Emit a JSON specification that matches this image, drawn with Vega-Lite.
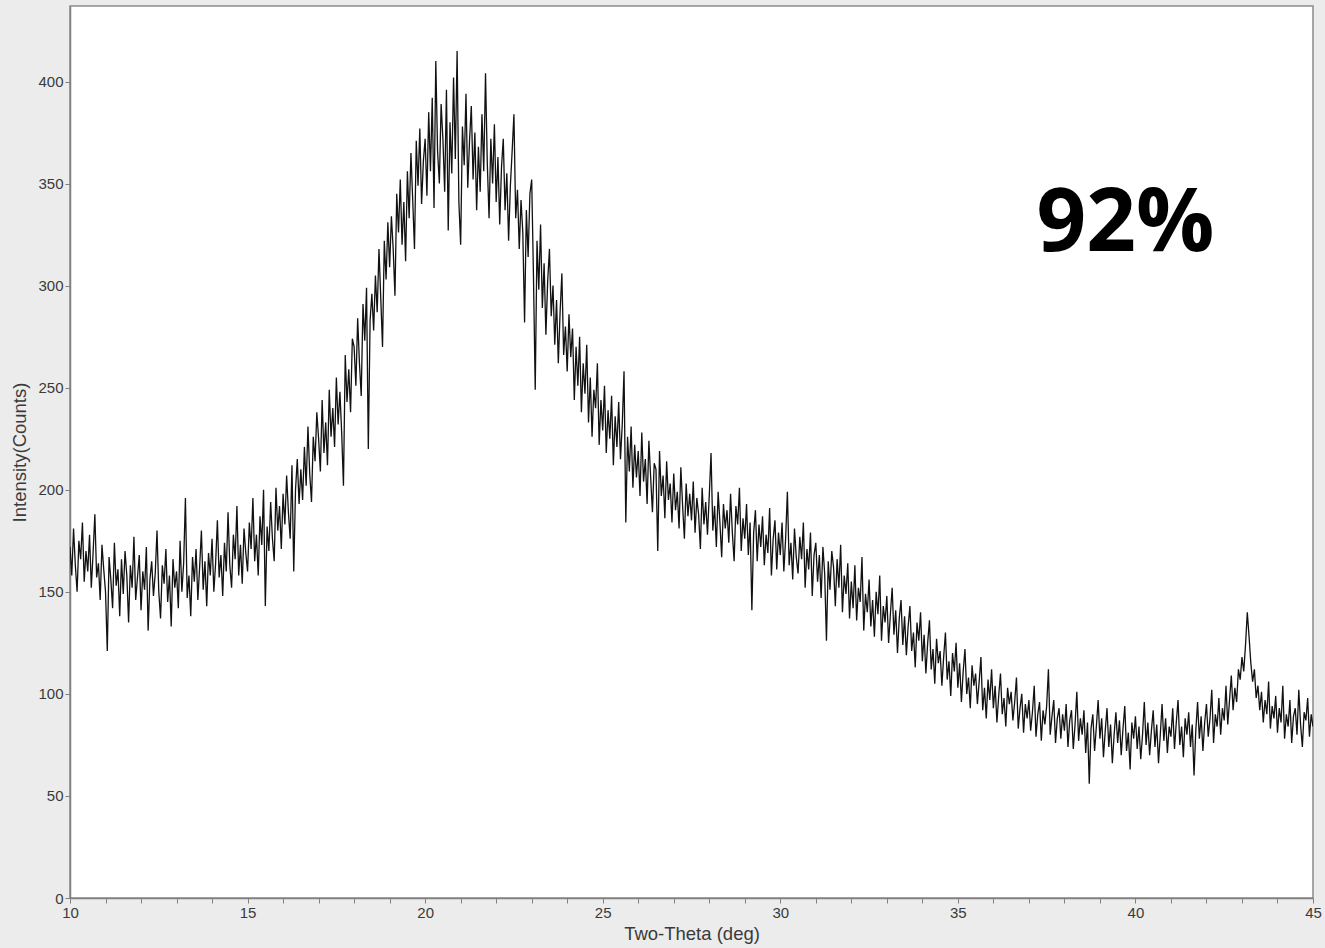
{
  "$schema": "https://vega.github.io/schema/vega-lite/v6.json",
  "width": 1243,
  "height": 892,
  "autosize": {"type": "none"},
  "padding": {"left": 70, "top": 6, "right": 12, "bottom": 50},
  "background": "#ececec",
  "config": {
    "view": {"fill": "#ffffff", "stroke": "#8c8c8c", "strokeWidth": 1.5},
    "axis": {
      "grid": false,
      "domainColor": "#808080",
      "domainWidth": 1.5,
      "tickColor": "#808080",
      "tickSize": 5,
      "labelFont": "Liberation Sans",
      "labelFontSize": 15,
      "labelColor": "#3a3a3a",
      "titleFont": "Liberation Sans",
      "titleFontSize": 18.5,
      "titleFontWeight": "normal",
      "titleColor": "#3a3a3a"
    }
  },
  "datasets": {
    "scan": [
      {"t":10.00,"c":172},{"t":10.05,"c":158},{"t":10.10,"c":181},{"t":10.15,"c":163},{"t":10.20,"c":150},{"t":10.25,"c":175},{"t":10.30,"c":166},{"t":10.35,"c":184},{"t":10.40,"c":155},{"t":10.45,"c":170},
      {"t":10.50,"c":160},{"t":10.55,"c":178},{"t":10.60,"c":152},{"t":10.65,"c":169},{"t":10.70,"c":188},{"t":10.75,"c":157},{"t":10.80,"c":164},{"t":10.85,"c":146},{"t":10.90,"c":173},{"t":10.95,"c":161},
      {"t":11.00,"c":150},{"t":11.05,"c":121},{"t":11.10,"c":167},{"t":11.15,"c":156},{"t":11.20,"c":142},{"t":11.25,"c":174},{"t":11.30,"c":153},{"t":11.35,"c":161},{"t":11.40,"c":138},{"t":11.45,"c":166},
      {"t":11.50,"c":149},{"t":11.55,"c":170},{"t":11.60,"c":158},{"t":11.65,"c":135},{"t":11.70,"c":163},{"t":11.75,"c":152},{"t":11.80,"c":177},{"t":11.85,"c":146},{"t":11.90,"c":157},{"t":11.95,"c":168},
      {"t":12.00,"c":141},{"t":12.05,"c":160},{"t":12.10,"c":151},{"t":12.15,"c":172},{"t":12.20,"c":131},{"t":12.25,"c":156},{"t":12.30,"c":165},{"t":12.35,"c":148},{"t":12.40,"c":159},{"t":12.45,"c":180},
      {"t":12.50,"c":150},{"t":12.55,"c":137},{"t":12.60,"c":163},{"t":12.65,"c":154},{"t":12.70,"c":171},{"t":12.75,"c":145},{"t":12.80,"c":158},{"t":12.85,"c":133},{"t":12.90,"c":166},{"t":12.95,"c":152},
      {"t":13.00,"c":160},{"t":13.05,"c":142},{"t":13.10,"c":175},{"t":13.15,"c":150},{"t":13.20,"c":164},{"t":13.25,"c":196},{"t":13.30,"c":147},{"t":13.35,"c":158},{"t":13.40,"c":138},{"t":13.45,"c":167},
      {"t":13.50,"c":155},{"t":13.55,"c":171},{"t":13.60,"c":146},{"t":13.65,"c":162},{"t":13.70,"c":180},{"t":13.75,"c":151},{"t":13.80,"c":165},{"t":13.85,"c":143},{"t":13.90,"c":169},{"t":13.95,"c":158},
      {"t":14.00,"c":176},{"t":14.05,"c":150},{"t":14.10,"c":164},{"t":14.15,"c":185},{"t":14.20,"c":157},{"t":14.25,"c":168},{"t":14.30,"c":148},{"t":14.35,"c":174},{"t":14.40,"c":160},{"t":14.45,"c":189},
      {"t":14.50,"c":163},{"t":14.55,"c":152},{"t":14.60,"c":178},{"t":14.65,"c":166},{"t":14.70,"c":192},{"t":14.75,"c":158},{"t":14.80,"c":173},{"t":14.85,"c":154},{"t":14.90,"c":181},{"t":14.95,"c":169},
      {"t":15.00,"c":160},{"t":15.05,"c":184},{"t":15.10,"c":171},{"t":15.15,"c":196},{"t":15.20,"c":165},{"t":15.25,"c":178},{"t":15.30,"c":158},{"t":15.35,"c":187},{"t":15.40,"c":173},{"t":15.45,"c":200},
      {"t":15.50,"c":143},{"t":15.55,"c":182},{"t":15.60,"c":170},{"t":15.65,"c":194},{"t":15.70,"c":176},{"t":15.75,"c":165},{"t":15.80,"c":201},{"t":15.85,"c":180},{"t":15.90,"c":192},{"t":15.95,"c":171},
      {"t":16.00,"c":198},{"t":16.05,"c":183},{"t":16.10,"c":207},{"t":16.15,"c":189},{"t":16.20,"c":176},{"t":16.25,"c":212},{"t":16.30,"c":160},{"t":16.35,"c":200},{"t":16.40,"c":215},{"t":16.45,"c":193},
      {"t":16.50,"c":210},{"t":16.55,"c":195},{"t":16.60,"c":221},{"t":16.65,"c":202},{"t":16.70,"c":231},{"t":16.75,"c":208},{"t":16.80,"c":194},{"t":16.85,"c":226},{"t":16.90,"c":214},{"t":16.95,"c":238},
      {"t":17.00,"c":225},{"t":17.05,"c":209},{"t":17.10,"c":244},{"t":17.15,"c":218},{"t":17.20,"c":233},{"t":17.25,"c":212},{"t":17.30,"c":249},{"t":17.35,"c":226},{"t":17.40,"c":240},{"t":17.45,"c":221},
      {"t":17.50,"c":255},{"t":17.55,"c":232},{"t":17.60,"c":248},{"t":17.65,"c":228},{"t":17.70,"c":202},{"t":17.75,"c":266},{"t":17.80,"c":243},{"t":17.85,"c":259},{"t":17.90,"c":238},{"t":17.95,"c":274},
      {"t":18.00,"c":270},{"t":18.05,"c":251},{"t":18.10,"c":284},{"t":18.15,"c":262},{"t":18.20,"c":246},{"t":18.25,"c":291},{"t":18.30,"c":273},{"t":18.35,"c":299},{"t":18.40,"c":220},{"t":18.45,"c":283},
      {"t":18.50,"c":296},{"t":18.55,"c":278},{"t":18.60,"c":305},{"t":18.65,"c":287},{"t":18.70,"c":318},{"t":18.75,"c":294},{"t":18.80,"c":270},{"t":18.85,"c":322},{"t":18.90,"c":303},{"t":18.95,"c":331},
      {"t":19.00,"c":309},{"t":19.05,"c":334},{"t":19.10,"c":318},{"t":19.15,"c":295},{"t":19.20,"c":345},{"t":19.25,"c":326},{"t":19.30,"c":352},{"t":19.35,"c":320},{"t":19.40,"c":341},{"t":19.45,"c":312},
      {"t":19.50,"c":356},{"t":19.55,"c":333},{"t":19.60,"c":365},{"t":19.65,"c":342},{"t":19.70,"c":318},{"t":19.75,"c":371},{"t":19.80,"c":349},{"t":19.85,"c":377},{"t":19.90,"c":340},{"t":19.95,"c":361},
      {"t":20.00,"c":372},{"t":20.05,"c":344},{"t":20.10,"c":385},{"t":20.15,"c":356},{"t":20.20,"c":392},{"t":20.25,"c":338},{"t":20.30,"c":410},{"t":20.35,"c":366},{"t":20.40,"c":350},{"t":20.45,"c":389},
      {"t":20.50,"c":372},{"t":20.55,"c":346},{"t":20.60,"c":396},{"t":20.65,"c":327},{"t":20.70,"c":380},{"t":20.75,"c":355},{"t":20.80,"c":402},{"t":20.85,"c":362},{"t":20.90,"c":415},{"t":20.95,"c":341},
      {"t":21.00,"c":320},{"t":21.05,"c":378},{"t":21.10,"c":359},{"t":21.15,"c":394},{"t":21.20,"c":348},{"t":21.25,"c":371},{"t":21.30,"c":388},{"t":21.35,"c":352},{"t":21.40,"c":375},{"t":21.45,"c":337},
      {"t":21.50,"c":368},{"t":21.55,"c":346},{"t":21.60,"c":384},{"t":21.65,"c":356},{"t":21.70,"c":404},{"t":21.75,"c":360},{"t":21.80,"c":333},{"t":21.85,"c":372},{"t":21.90,"c":350},{"t":21.95,"c":379},
      {"t":22.00,"c":341},{"t":22.05,"c":363},{"t":22.10,"c":330},{"t":22.15,"c":358},{"t":22.20,"c":372},{"t":22.25,"c":337},{"t":22.30,"c":355},{"t":22.35,"c":322},{"t":22.40,"c":349},{"t":22.45,"c":366},
      {"t":22.50,"c":384},{"t":22.55,"c":333},{"t":22.60,"c":347},{"t":22.65,"c":318},{"t":22.70,"c":342},{"t":22.75,"c":326},{"t":22.80,"c":282},{"t":22.85,"c":337},{"t":22.90,"c":314},{"t":22.95,"c":345},
      {"t":23.00,"c":352},{"t":23.05,"c":305},{"t":23.10,"c":249},{"t":23.15,"c":322},{"t":23.20,"c":298},{"t":23.25,"c":330},{"t":23.30,"c":289},{"t":23.35,"c":311},{"t":23.40,"c":276},{"t":23.45,"c":302},
      {"t":23.50,"c":318},{"t":23.55,"c":285},{"t":23.60,"c":300},{"t":23.65,"c":271},{"t":23.70,"c":293},{"t":23.75,"c":262},{"t":23.80,"c":287},{"t":23.85,"c":306},{"t":23.90,"c":266},{"t":23.95,"c":280},
      {"t":24.00,"c":258},{"t":24.05,"c":286},{"t":24.10,"c":265},{"t":24.15,"c":279},{"t":24.20,"c":244},{"t":24.25,"c":270},{"t":24.30,"c":251},{"t":24.35,"c":275},{"t":24.40,"c":238},{"t":24.45,"c":262},
      {"t":24.50,"c":247},{"t":24.55,"c":271},{"t":24.60,"c":233},{"t":24.65,"c":255},{"t":24.70,"c":226},{"t":24.75,"c":249},{"t":24.80,"c":240},{"t":24.85,"c":262},{"t":24.90,"c":222},{"t":24.95,"c":244},
      {"t":25.00,"c":229},{"t":25.05,"c":251},{"t":25.10,"c":218},{"t":25.15,"c":239},{"t":25.20,"c":225},{"t":25.25,"c":246},{"t":25.30,"c":212},{"t":25.35,"c":236},{"t":25.40,"c":221},{"t":25.45,"c":243},
      {"t":25.50,"c":215},{"t":25.55,"c":232},{"t":25.60,"c":258},{"t":25.65,"c":184},{"t":25.70,"c":226},{"t":25.75,"c":209},{"t":25.80,"c":231},{"t":25.85,"c":201},{"t":25.90,"c":222},{"t":25.95,"c":206},
      {"t":26.00,"c":219},{"t":26.05,"c":197},{"t":26.10,"c":228},{"t":26.15,"c":204},{"t":26.20,"c":215},{"t":26.25,"c":193},{"t":26.30,"c":224},{"t":26.35,"c":206},{"t":26.40,"c":189},{"t":26.45,"c":213},
      {"t":26.50,"c":210},{"t":26.55,"c":170},{"t":26.60,"c":219},{"t":26.65,"c":197},{"t":26.70,"c":207},{"t":26.75,"c":186},{"t":26.80,"c":214},{"t":26.85,"c":195},{"t":26.90,"c":203},{"t":26.95,"c":184},
      {"t":27.00,"c":208},{"t":27.05,"c":190},{"t":27.10,"c":199},{"t":27.15,"c":181},{"t":27.20,"c":211},{"t":27.25,"c":192},{"t":27.30,"c":176},{"t":27.35,"c":203},{"t":27.40,"c":187},{"t":27.45,"c":198},
      {"t":27.50,"c":185},{"t":27.55,"c":204},{"t":27.60,"c":179},{"t":27.65,"c":196},{"t":27.70,"c":188},{"t":27.75,"c":171},{"t":27.80,"c":201},{"t":27.85,"c":183},{"t":27.90,"c":194},{"t":27.95,"c":178},
      {"t":28.00,"c":197},{"t":28.05,"c":218},{"t":28.10,"c":180},{"t":28.15,"c":192},{"t":28.20,"c":172},{"t":28.25,"c":199},{"t":28.30,"c":184},{"t":28.35,"c":167},{"t":28.40,"c":193},{"t":28.45,"c":181},
      {"t":28.50,"c":190},{"t":28.55,"c":174},{"t":28.60,"c":198},{"t":28.65,"c":179},{"t":28.70,"c":165},{"t":28.75,"c":192},{"t":28.80,"c":183},{"t":28.85,"c":201},{"t":28.90,"c":170},{"t":28.95,"c":186},
      {"t":29.00,"c":176},{"t":29.05,"c":193},{"t":29.10,"c":168},{"t":29.15,"c":184},{"t":29.20,"c":141},{"t":29.25,"c":179},{"t":29.30,"c":190},{"t":29.35,"c":165},{"t":29.40,"c":183},{"t":29.45,"c":172},
      {"t":29.50,"c":187},{"t":29.55,"c":163},{"t":29.60,"c":178},{"t":29.65,"c":169},{"t":29.70,"c":191},{"t":29.75,"c":158},{"t":29.80,"c":176},{"t":29.85,"c":185},{"t":29.90,"c":161},{"t":29.95,"c":179},
      {"t":30.00,"c":168},{"t":30.05,"c":184},{"t":30.10,"c":160},{"t":30.15,"c":176},{"t":30.20,"c":199},{"t":30.25,"c":163},{"t":30.30,"c":174},{"t":30.35,"c":156},{"t":30.40,"c":181},{"t":30.45,"c":167},
      {"t":30.50,"c":159},{"t":30.55,"c":177},{"t":30.60,"c":166},{"t":30.65,"c":184},{"t":30.70,"c":152},{"t":30.75,"c":171},{"t":30.80,"c":161},{"t":30.85,"c":179},{"t":30.90,"c":148},{"t":30.95,"c":168},
      {"t":31.00,"c":174},{"t":31.05,"c":155},{"t":31.10,"c":168},{"t":31.15,"c":147},{"t":31.20,"c":172},{"t":31.25,"c":159},{"t":31.30,"c":126},{"t":31.35,"c":165},{"t":31.40,"c":151},{"t":31.45,"c":170},
      {"t":31.50,"c":162},{"t":31.55,"c":143},{"t":31.60,"c":166},{"t":31.65,"c":152},{"t":31.70,"c":173},{"t":31.75,"c":140},{"t":31.80,"c":158},{"t":31.85,"c":149},{"t":31.90,"c":164},{"t":31.95,"c":137},
      {"t":32.00,"c":155},{"t":32.05,"c":142},{"t":32.10,"c":163},{"t":32.15,"c":136},{"t":32.20,"c":152},{"t":32.25,"c":145},{"t":32.30,"c":167},{"t":32.35,"c":131},{"t":32.40,"c":149},{"t":32.45,"c":140},
      {"t":32.50,"c":156},{"t":32.55,"c":133},{"t":32.60,"c":146},{"t":32.65,"c":128},{"t":32.70,"c":150},{"t":32.75,"c":139},{"t":32.80,"c":158},{"t":32.85,"c":126},{"t":32.90,"c":143},{"t":32.95,"c":135},
      {"t":33.00,"c":148},{"t":33.05,"c":125},{"t":33.10,"c":139},{"t":33.15,"c":152},{"t":33.20,"c":129},{"t":33.25,"c":141},{"t":33.30,"c":120},{"t":33.35,"c":137},{"t":33.40,"c":146},{"t":33.45,"c":124},
      {"t":33.50,"c":138},{"t":33.55,"c":119},{"t":33.60,"c":133},{"t":33.65,"c":143},{"t":33.70,"c":121},{"t":33.75,"c":130},{"t":33.80,"c":113},{"t":33.85,"c":135},{"t":33.90,"c":126},{"t":33.95,"c":140},
      {"t":34.00,"c":116},{"t":34.05,"c":129},{"t":34.10,"c":110},{"t":34.15,"c":125},{"t":34.20,"c":136},{"t":34.25,"c":112},{"t":34.30,"c":122},{"t":34.35,"c":105},{"t":34.40,"c":127},{"t":34.45,"c":115},
      {"t":34.50,"c":121},{"t":34.55,"c":104},{"t":34.60,"c":118},{"t":34.65,"c":130},{"t":34.70,"c":107},{"t":34.75,"c":116},{"t":34.80,"c":99},{"t":34.85,"c":120},{"t":34.90,"c":111},{"t":34.95,"c":125},
      {"t":35.00,"c":103},{"t":35.05,"c":115},{"t":35.10,"c":96},{"t":35.15,"c":111},{"t":35.20,"c":122},{"t":35.25,"c":100},{"t":35.30,"c":108},{"t":35.35,"c":93},{"t":35.40,"c":114},{"t":35.45,"c":104},
      {"t":35.50,"c":110},{"t":35.55,"c":95},{"t":35.60,"c":106},{"t":35.65,"c":118},{"t":35.70,"c":92},{"t":35.75,"c":103},{"t":35.80,"c":88},{"t":35.85,"c":107},{"t":35.90,"c":97},{"t":35.95,"c":112},
      {"t":36.00,"c":93},{"t":36.05,"c":104},{"t":36.10,"c":86},{"t":36.15,"c":99},{"t":36.20,"c":110},{"t":36.25,"c":90},{"t":36.30,"c":98},{"t":36.35,"c":84},{"t":36.40,"c":103},{"t":36.45,"c":95},
      {"t":36.50,"c":101},{"t":36.55,"c":87},{"t":36.60,"c":96},{"t":36.65,"c":108},{"t":36.70,"c":83},{"t":36.75,"c":93},{"t":36.80,"c":100},{"t":36.85,"c":81},{"t":36.90,"c":95},{"t":36.95,"c":88},
      {"t":37.00,"c":97},{"t":37.05,"c":82},{"t":37.10,"c":91},{"t":37.15,"c":104},{"t":37.20,"c":79},{"t":37.25,"c":90},{"t":37.30,"c":96},{"t":37.35,"c":77},{"t":37.40,"c":92},{"t":37.45,"c":85},
      {"t":37.50,"c":94},{"t":37.55,"c":112},{"t":37.60,"c":80},{"t":37.65,"c":89},{"t":37.70,"c":97},{"t":37.75,"c":76},{"t":37.80,"c":88},{"t":37.85,"c":93},{"t":37.90,"c":78},{"t":37.95,"c":90},
      {"t":38.00,"c":82},{"t":38.05,"c":95},{"t":38.10,"c":74},{"t":38.15,"c":87},{"t":38.20,"c":92},{"t":38.25,"c":73},{"t":38.30,"c":85},{"t":38.35,"c":101},{"t":38.40,"c":77},{"t":38.45,"c":88},
      {"t":38.50,"c":80},{"t":38.55,"c":92},{"t":38.60,"c":71},{"t":38.65,"c":86},{"t":38.70,"c":56},{"t":38.75,"c":83},{"t":38.80,"c":90},{"t":38.85,"c":72},{"t":38.90,"c":84},{"t":38.95,"c":97},
      {"t":39.00,"c":78},{"t":39.05,"c":88},{"t":39.10,"c":69},{"t":39.15,"c":82},{"t":39.20,"c":93},{"t":39.25,"c":74},{"t":39.30,"c":85},{"t":39.35,"c":66},{"t":39.40,"c":80},{"t":39.45,"c":91},
      {"t":39.50,"c":76},{"t":39.55,"c":87},{"t":39.60,"c":70},{"t":39.65,"c":83},{"t":39.70,"c":94},{"t":39.75,"c":72},{"t":39.80,"c":81},{"t":39.85,"c":63},{"t":39.90,"c":86},{"t":39.95,"c":78},
      {"t":40.00,"c":89},{"t":40.05,"c":73},{"t":40.10,"c":84},{"t":40.15,"c":68},{"t":40.20,"c":80},{"t":40.25,"c":96},{"t":40.30,"c":75},{"t":40.35,"c":86},{"t":40.40,"c":70},{"t":40.45,"c":82},
      {"t":40.50,"c":92},{"t":40.55,"c":74},{"t":40.60,"c":85},{"t":40.65,"c":66},{"t":40.70,"c":80},{"t":40.75,"c":95},{"t":40.80,"c":77},{"t":40.85,"c":88},{"t":40.90,"c":71},{"t":40.95,"c":84},
      {"t":41.00,"c":79},{"t":41.05,"c":93},{"t":41.10,"c":73},{"t":41.15,"c":86},{"t":41.20,"c":97},{"t":41.25,"c":75},{"t":41.30,"c":84},{"t":41.35,"c":69},{"t":41.40,"c":88},{"t":41.45,"c":80},
      {"t":41.50,"c":91},{"t":41.55,"c":74},{"t":41.60,"c":85},{"t":41.65,"c":60},{"t":41.70,"c":82},{"t":41.75,"c":96},{"t":41.80,"c":78},{"t":41.85,"c":89},{"t":41.90,"c":72},{"t":41.95,"c":86},
      {"t":42.00,"c":95},{"t":42.05,"c":79},{"t":42.10,"c":88},{"t":42.15,"c":102},{"t":42.20,"c":76},{"t":42.25,"c":90},{"t":42.30,"c":84},{"t":42.35,"c":98},{"t":42.40,"c":80},{"t":42.45,"c":93},
      {"t":42.50,"c":87},{"t":42.55,"c":104},{"t":42.60,"c":85},{"t":42.65,"c":97},{"t":42.70,"c":109},{"t":42.75,"c":92},{"t":42.80,"c":103},{"t":42.85,"c":96},{"t":42.90,"c":112},{"t":42.95,"c":107},
      {"t":43.00,"c":118},{"t":43.05,"c":111},{"t":43.10,"c":124},{"t":43.15,"c":140},{"t":43.20,"c":128},{"t":43.25,"c":115},{"t":43.30,"c":106},{"t":43.35,"c":112},{"t":43.40,"c":98},{"t":43.45,"c":104},
      {"t":43.50,"c":92},{"t":43.55,"c":101},{"t":43.60,"c":86},{"t":43.65,"c":97},{"t":43.70,"c":90},{"t":43.75,"c":106},{"t":43.80,"c":83},{"t":43.85,"c":94},{"t":43.90,"c":88},{"t":43.95,"c":99},
      {"t":44.00,"c":81},{"t":44.05,"c":93},{"t":44.10,"c":86},{"t":44.15,"c":104},{"t":44.20,"c":78},{"t":44.25,"c":90},{"t":44.30,"c":84},{"t":44.35,"c":97},{"t":44.40,"c":76},{"t":44.45,"c":89},
      {"t":44.50,"c":93},{"t":44.55,"c":80},{"t":44.60,"c":102},{"t":44.65,"c":85},{"t":44.70,"c":74},{"t":44.75,"c":91},{"t":44.80,"c":87},{"t":44.85,"c":98},{"t":44.90,"c":79},{"t":44.95,"c":90},{"t":45.00,"c":84}
    ],
    "note": [
      {"t": 39.72, "c": 317, "label": "92%"}
    ]
  },
  "resolve": {"axis": {"x": "independent"}},
  "layer": [
    {
      "data": {"name": "scan"},
      "mark": {"type": "line", "color": "#111111", "strokeWidth": 1.3, "clip": true},
      "encoding": {
        "x": {
          "field": "t",
          "type": "quantitative",
          "scale": {"domain": [10, 45], "nice": false, "zero": false},
          "axis": {
            "orient": "bottom",
            "title": "Two-Theta (deg)",
            "values": [10, 15, 20, 25, 30, 35, 40, 45],
            "labelPadding": 2,
            "titlePadding": 4,
            "labelFlush": false,
            "labelOverlap": false
          }
        },
        "y": {
          "field": "c",
          "type": "quantitative",
          "scale": {"domain": [0, 437], "nice": false},
          "axis": {
            "title": "Intensity(Counts)",
            "values": [0, 50, 100, 150, 200, 250, 300, 350, 400],
            "labelPadding": 2,
            "titlePadding": 8,
            "labelFlush": false
          }
        }
      }
    },
    {
      "data": {"name": "note"},
      "mark": {
        "type": "text",
        "font": "Open Sans",
        "fontSize": 87,
        "fontWeight": 700,
        "align": "center",
        "baseline": "alphabetic",
        "color": "#000000"
      },
      "encoding": {
        "x": {
          "field": "t",
          "type": "quantitative",
          "axis": {
            "orient": "bottom",
            "title": null,
            "labels": false,
            "domain": false,
            "values": [11, 12, 13, 14, 16, 17, 18, 19, 21, 22, 23, 24, 26, 27, 28, 29, 31, 32, 33, 34, 36, 37, 38, 39, 41, 42, 43, 44]
          }
        },
        "y": {"field": "c", "type": "quantitative"},
        "text": {"field": "label"}
      }
    }
  ]
}
